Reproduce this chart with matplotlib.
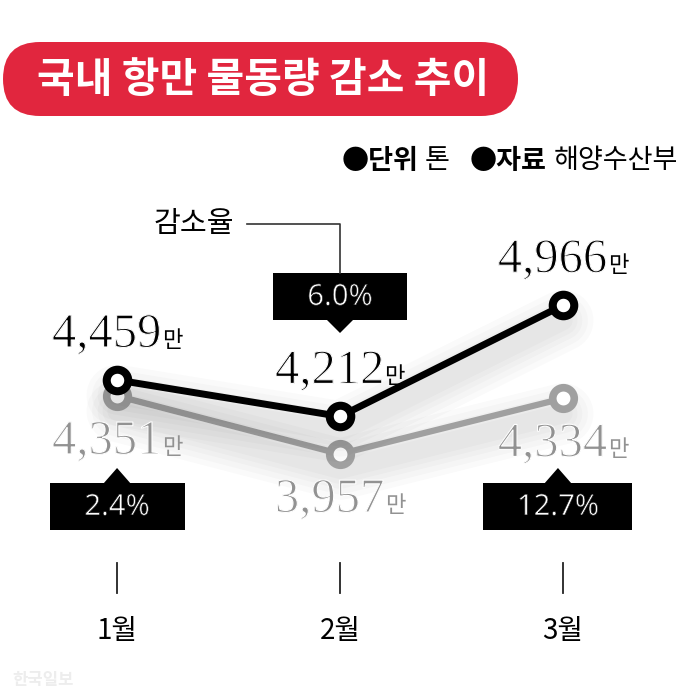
import matplotlib
matplotlib.use('Agg')
import matplotlib.pyplot as plt
import matplotlib.patheffects as pe
from matplotlib.patches import FancyBboxPatch, Rectangle, Polygon

# 국내 항만 물동량 (단위: 톤)
months = ['1월', '2월', '3월']
prev_vals = [4459, 4212, 4966]   # 검은 선
curr_vals = [4351, 3957, 4334]   # 회색 선
rates = ['2.4%', '6.0%', '12.7%']
title = '국내 항만 물동량 감소 추이'
legend_keys = ['단위', '자료']
legend_vals = ['톤', '해양수산부']

KR = ['Noto Sans CJK KR', 'DejaVu Sans']
NUM = 'Liberation Serif'
GRAY = '#a0a0a0'
GRAY_TXT = '#929292'
RED = '#e1263e'

fig = plt.figure(figsize=(6.8, 7), dpi=100)
ax = fig.add_axes([0, 0, 1, 1])
ax.set_xlim(-0.525, 2.525)
ax.set_ylim(2288, 7037)
ax.axis('off')

# 픽셀 좌표 레이어 (y 아래 방향)
lay = fig.add_axes([0, 0, 1, 1], zorder=3)
lay.set_xlim(0, 680)
lay.set_ylim(700, 0)
lay.axis('off')
lay.patch.set_alpha(0)

x = list(range(len(months)))

# 흐릿한 그림자
shadow = [pe.SimpleLineShadow(offset=(0, -11), shadow_color='k', alpha=0.018, linewidth=w)
          for w in (44, 36, 28, 21, 14)]

ax.plot(x, curr_vals, color=GRAY, lw=4.5, solid_capstyle='round',
        path_effects=shadow + [pe.Normal()], zorder=2)
ax.plot(x, curr_vals, ls='none', marker='o', ms=15.5, mfc='white', mec=GRAY, mew=5.5, zorder=2)
ax.plot(x, prev_vals, color='black', lw=5, solid_capstyle='round',
        path_effects=shadow + [pe.Normal()], zorder=3)
ax.plot(x, prev_vals, ls='none', marker='o', ms=15.5, mfc='white', mec='black', mew=5.8, zorder=3)


def mx(i):
    return ax.transData.transform((i, 0))[0]


def my(v):
    return 700 - ax.transData.transform((0, v))[1]


fig.canvas.draw()
r = fig.canvas.get_renderer()

thin = [pe.Normal(), pe.Stroke(linewidth=0.8, foreground='white')]


def value_label(i, v, color, dy):
    px, py = mx(i), my(v)
    t1 = lay.text(0, py + dy, f'{v:,}', fontsize=35, family=NUM, color=color,
                  va='baseline', path_effects=thin)
    t2 = lay.text(0, py + dy, '만', fontsize=16, family=KR, color=color, va='baseline')
    w1 = t1.get_window_extent(r).width
    w2 = t2.get_window_extent(r).width
    x0 = px - (w1 + w2) / 2
    t1.set_x(x0)
    t2.set_x(x0 + w1)


for i in x:
    value_label(i, prev_vals[i], 'black', -33)
    value_label(i, curr_vals[i], GRAY_TXT, 58)


def rate_box(cx, top, w, text, up):
    h = 47
    lay.add_patch(Rectangle((cx - w / 2, top), w, h, fc='black', ec='none'))
    if up:
        tri = [(cx - 14, top + 1), (cx + 14, top + 1), (cx, top - 15)]
    else:
        tri = [(cx - 14, top + h - 1), (cx + 14, top + h - 1), (cx, top + h + 13)]
    lay.add_patch(Polygon(tri, closed=True, fc='black', ec='none'))
    lay.text(cx, top + h / 2 + 1, text, color='white', fontsize=21,
             family='Noto Sans', ha='center', va='center',
             path_effects=[pe.Normal(), pe.Stroke(linewidth=0.5, foreground='black')])


box_w = [135, 134, 149]
rate_box(mx(0), 483, box_w[0], rates[0], True)
rate_box(mx(1), 273, box_w[1], rates[1], False)
rate_box(mx(2) - 5, 483, box_w[2], rates[2], True)

# 감소율 안내선
lay.text(234, 224, '감소율', family=KR, fontsize=21, ha='right', va='center')
lay.plot([247, mx(1), mx(1)], [224, 224, 273], color='#333333', lw=1.2)

# 월 눈금
for i, m in enumerate(months):
    lay.plot([mx(i), mx(i)], [563, 593], color='#222222', lw=1.3)
    lay.text(mx(i), 631, m, family=KR, fontsize=20, ha='center', va='center')

# 제목
lay.add_patch(FancyBboxPatch((3, 42), 515, 74, boxstyle='round,pad=0,rounding_size=37',
                             fc=RED, ec='none'))
lay.text(263, 80, title, family=KR, fontsize=29.5, weight='bold', color='white',
         ha='center', va='center')

# 단위 / 자료
parts = [('●' + legend_keys[0], 'bold', 6), (legend_vals[0], 'normal', 20),
         ('●' + legend_keys[1], 'bold', 7), (legend_vals[1], 'normal', 0)]
xr = 678
for txt, wt, gap in reversed(parts):
    xr -= gap
    t = lay.text(xr, 161, txt, family=KR, fontsize=19.5, weight=wt, ha='right', va='center')
    xr -= t.get_window_extent(r).width

lay.text(12, 680, '한국일보', family=KR, fontsize=12, weight='bold', color='#ededed', va='center')

fig.savefig('out.png', dpi=100)
